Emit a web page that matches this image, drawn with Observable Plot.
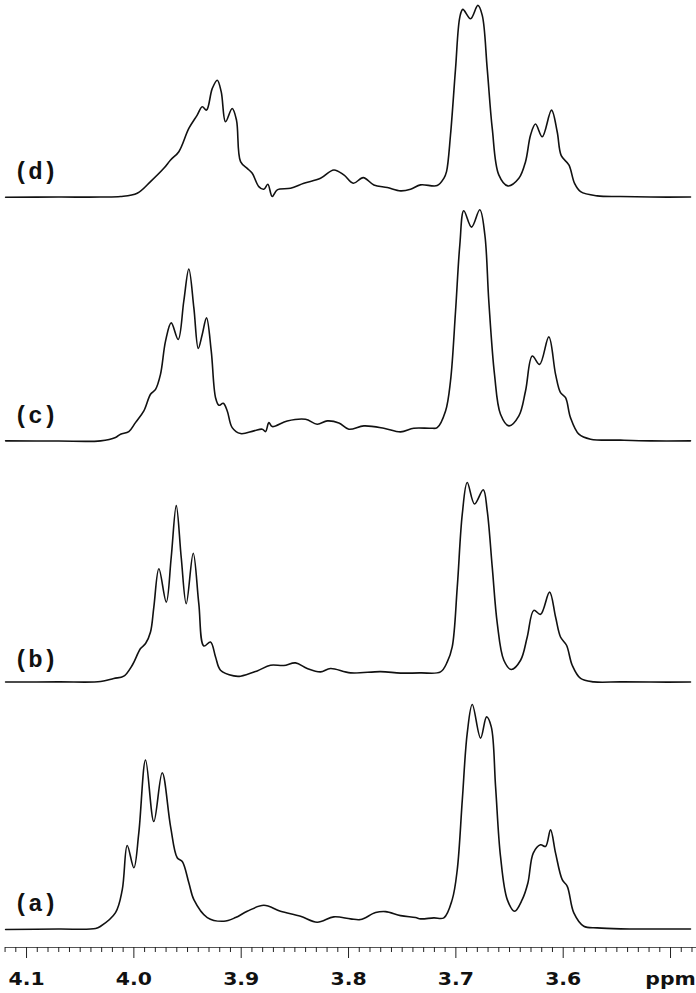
<!DOCTYPE html>
<html><head><meta charset="utf-8">
<script src="https://cdn.jsdelivr.net/npm/d3@7"></script>
<script src="https://cdn.jsdelivr.net/npm/@observablehq/plot@0.6"></script>
<style>body{margin:0;background:#fff}</style>
</head><body><div id="chart"></div>
<script>
// Trace names, top to bottom
const traceNames = ["(d)", "(c)", "(b)", "(a)"];

// [ppm, intensity above baseline]
const specA = [
[4.1195,0],[4.0702,0.5],[4.0357,1],[4.0310,3.3],[4.0171,17],[4.0108,40],[4.0062,84.3],[4.0000,62],
[3.9954,97],[3.9891,170],[3.9814,108.3],[3.9736,157.3],[3.9658,103.3],[3.9596,72],[3.9549,68.3],
[3.9488,47],[3.9441,30],[3.9316,12],[3.9162,8.3],[3.9053,12],[3.8944,18.3],[3.8789,24.3],[3.8634,18.3],
[3.8447,13.3],[3.8292,7.3],[3.8137,12.7],[3.7981,10.7],[3.7888,10],[3.7748,17],[3.7655,18],[3.7515,14],
[3.7376,12],[3.7329,10.7],[3.7205,11.7],[3.7112,11.7],[3.7034,30],[3.6987,60],[3.6940,130],[3.6894,197],
[3.6847,225.7],[3.6770,192],[3.6714,213.3],[3.6670,203.3],[3.6630,143.3],[3.6584,73.3],[3.6521,30],
[3.6453,18.3],[3.6382,30],[3.6329,46.7],[3.6279,76.7],[3.6211,85],[3.6164,83.3],[3.6118,100],[3.6071,76.7],
[3.6009,50],[3.5962,43.3],[3.5901,16.7],[3.5808,3.3],[3.5683,1.7],[3.5466,0.7],[3.5186,0.5],[3.4814,0.5]
];
const specB = [
[4.1195,3.5],[4.0702,3.7],[4.0310,4],[4.0187,7.1],[4.0094,9.4],[4.0015,20.4],[3.9938,37.1],[3.9891,42.1],
[3.9845,53.7],[3.9814,78.7],[3.9767,117.1],[3.9698,83.7],[3.9652,128.7],[3.9605,180.4],[3.9559,128.7],
[3.9512,82.1],[3.9447,132.7],[3.9395,82.1],[3.9348,39.7],[3.9286,43.7],[3.9239,28.7],[3.9193,15.4],
[3.9069,9.7],[3.9006,9.4],[3.8851,14.7],[3.8727,20.4],[3.8603,20.1],[3.8494,22.7],[3.8385,17.1],[3.8261,13.7],
[3.8168,17.1],[3.7981,12.7],[3.7702,14],[3.7515,12.5],[3.7329,12.7],[3.7143,13.7],[3.7080,23.7],[3.7034,38.7],
[3.6987,98.7],[3.6940,172.1],[3.6894,203.7],[3.6826,182.1],[3.6745,196.4],[3.6708,175.4],[3.6661,118.7],
[3.6614,62.1],[3.6553,25.4],[3.6484,16.1],[3.6397,25.4],[3.6335,48.7],[3.6274,75.4],[3.6211,71.4],[3.6127,93.7],
[3.6071,68.7],[3.6025,48.7],[3.5969,40.4],[3.5916,20.4],[3.5838,7.1],[3.5714,3.7],[3.5466,3.7],[3.5186,3.5],[3.4814,3.5]
];
const specC = [
[4.1195,0.7],[4.0702,0.5],[4.0310,0.7],[4.0171,4],[4.0124,7.4],[4.0047,10],[3.9985,19],[3.9907,30.7],
[3.9845,47.4],[3.9798,52.4],[3.9752,67.4],[3.9705,100.7],[3.9652,119],[3.9587,102.4],[3.9535,140.7],
[3.9488,173],[3.9441,134],[3.9400,93.4],[3.9363,107.4],[3.9323,124],[3.9279,90.7],[3.9239,44],[3.9208,36.4],
[3.9167,38.4],[3.9130,30.7],[3.9084,14],[3.9006,8],[3.8882,10.7],[3.8804,12.4],[3.8773,10],[3.8742,19],
[3.8711,15],[3.8571,20.7],[3.8401,22.4],[3.8292,17.4],[3.8198,20.7],[3.8090,18.7],[3.7997,12.4],[3.7857,15.7],
[3.7671,13.4],[3.7515,9.7],[3.7392,13.4],[3.7236,13.4],[3.7174,14],[3.7096,30.7],[3.7050,60.7],[3.7003,130.7],
[3.6963,197.4],[3.6926,231.4],[3.6854,215],[3.6777,232.4],[3.6730,207.4],[3.6693,140.7],[3.6640,67.4],
[3.6584,27.4],[3.6506,15.7],[3.6413,25.7],[3.6351,50.7],[3.6288,85.7],[3.6220,77.4],[3.6134,105],[3.6071,67.4],
[3.6025,49],[3.5978,44],[3.5932,24],[3.5854,7.4],[3.5745,2.4],[3.5466,1.4],[3.5186,0.7],[3.4814,0.7]
];
const specD = [
[4.1195,0.3],[4.0702,0.5],[4.0310,0.5],[4.0124,1],[3.9969,4.3],[3.9845,16],[3.9721,29.3],[3.9658,37.7],
[3.9581,46],[3.9488,69.3],[3.9410,82.7],[3.9363,91],[3.9323,87.7],[3.9270,109.3],[3.9223,117.7],[3.9186,106],
[3.9146,76],[3.9084,89.3],[3.9044,77.7],[3.9006,36],[3.8944,29.3],[3.8897,24.3],[3.8836,11],[3.8789,8.3],
[3.8752,13.3],[3.8711,1],[3.8664,7.7],[3.8540,9.3],[3.8416,14.3],[3.8261,19.3],[3.8137,27.7],[3.8044,22.7],
[3.7956,14.3],[3.7863,20],[3.7764,12.7],[3.7639,10],[3.7515,6.7],[3.7422,8.3],[3.7329,12.7],[3.7174,12],
[3.7112,19.3],[3.7087,26],[3.7050,62.7],[3.7003,129.3],[3.6963,181],[3.6935,188.7],[3.6863,179.3],[3.6795,192.7],
[3.6754,182.7],[3.6708,129.3],[3.6661,69.3],[3.6600,22.7],[3.6516,11.7],[3.6413,19.3],[3.6351,36],[3.6304,62.7],
[3.6258,73.7],[3.6195,61],[3.6109,87.7],[3.6056,66],[3.6018,42],[3.5947,32.7],[3.5894,14.3],[3.5838,6],
[3.5683,1.7],[3.5466,1],[3.5186,0.5],[3.4814,0.5]
];

// Axis ticks
const tickValues = [4.1, 4.0, 3.9, 3.8, 3.7, 3.6, 3.5];
const tickLabels = ["4.1", "4.0", "3.9", "3.8", "3.7", "3.6", "ppm"];
const minorTicks = d3.range(348, 413).map(i => i / 100)
  .filter(v => !tickValues.some(t => Math.abs(t - v) < 1e-6));

const rows = [];
[["(a)", specA], ["(b)", specB], ["(c)", specC], ["(d)", specD]]
  .forEach(([t, s]) => s.forEach(([ppm, h]) => rows.push({trace: t, ppm, h})));

const chart = Plot.plot({
  width: 696,
  height: 993,
  marginTop: -30.7,
  marginBottom: 44.9,
  marginLeft: 5,
  marginRight: 0,
  style: {fontFamily: "'DejaVu Sans', sans-serif", background: "#fff", color: "#111"},
  x: {domain: [4.1196, 3.4758], label: null},
  y: {domain: [-18, 226.7], axis: null},
  fy: {domain: traceNames, padding: 0, axis: null},
  marks: [
    Plot.line(rows, {x: "ppm", y: "h", fy: "trace", z: "trace", curve: "catmull-rom",
      stroke: "#111", strokeWidth: 1.6}),
    Plot.text(traceNames, {fy: d => d, text: d => d, frameAnchor: "bottom-left", dx: 30, dy: -44,
      textAnchor: "middle", lineAnchor: "middle", fontFamily: "'Liberation Mono', monospace",
      fontWeight: "bold", fontSize: 24, fill: "#111"}),
    Plot.ruleY([-18], {fy: ["(a)"], stroke: "#555", strokeWidth: 1}),
    Plot.axisX({anchor: "bottom", ticks: minorTicks, tickSize: 5, tickFormat: () => "", label: null,
      stroke: "#222"}),
    Plot.axisX({anchor: "bottom", ticks: tickValues, tickSize: 11, tickPadding: 14, label: null,
      tickFormat: d => tickLabels[tickValues.indexOf(d)], fontSize: 17, fontWeight: "bold",
      stroke: "#222", fill: "#111"})
  ]
});
document.getElementById("chart").appendChild(chart);

// Tick labels in the reference use a horizontally wide bold face
chart.querySelectorAll('[aria-label="x-axis tick label"] text').forEach(t => {
  const tr = t.getAttribute("transform");
  if (tr && tr.includes("translate")) t.setAttribute("transform", tr + " scale(1.2,1)");
});
</script>
</body></html>
